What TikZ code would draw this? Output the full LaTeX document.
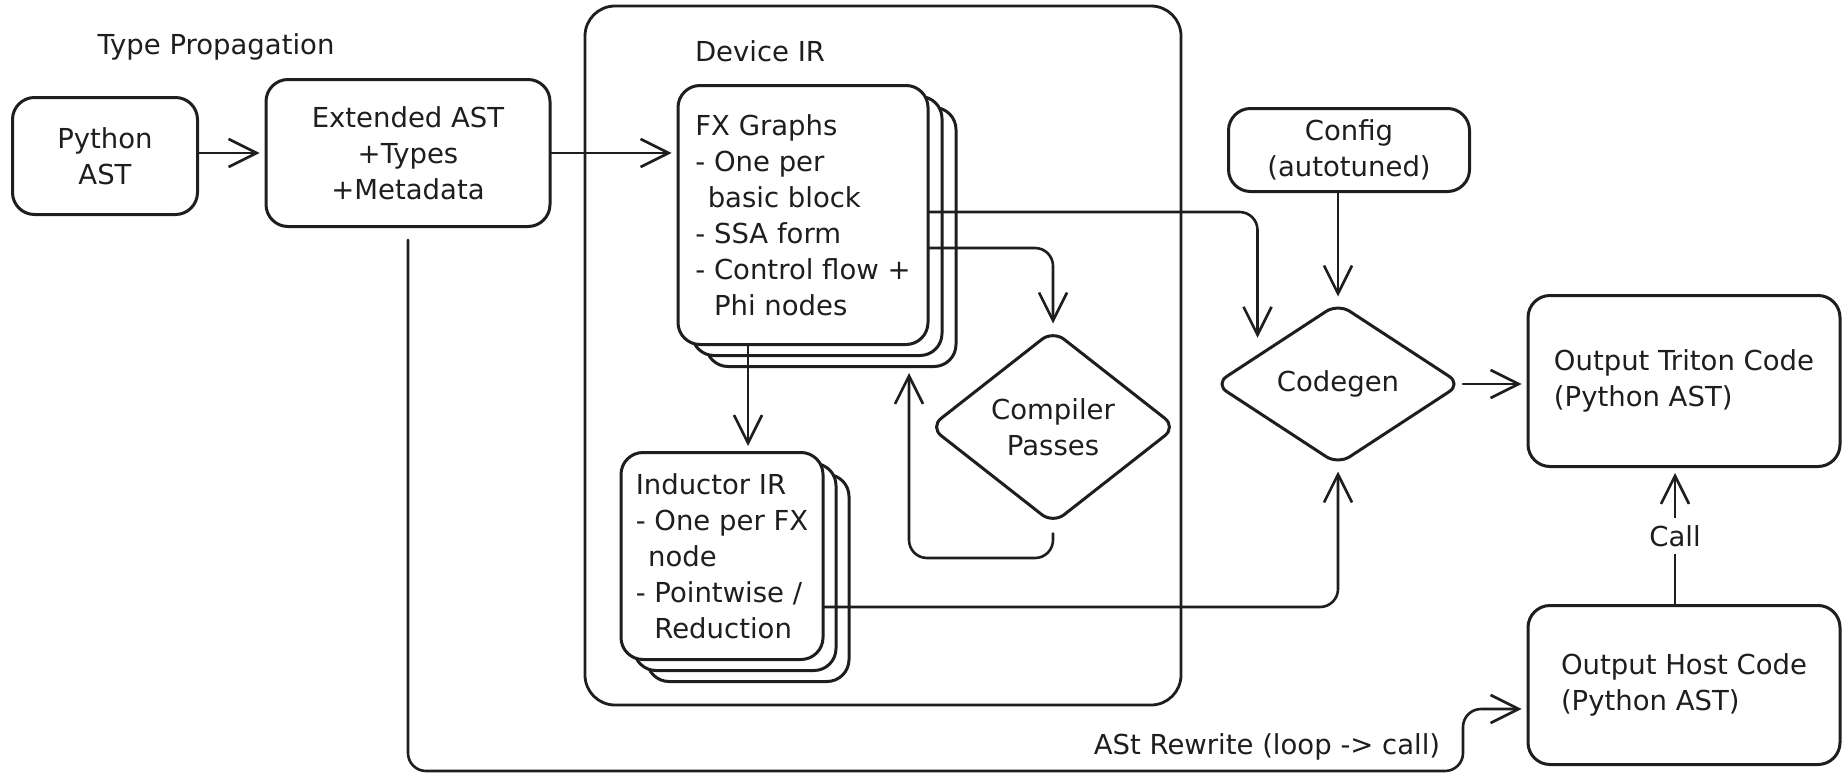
\documentclass[tikz,border=0pt]{standalone}
\usepackage{fontspec}
\setmainfont{DejaVu Sans}
\usetikzlibrary{shapes.geometric,arrows.meta,calc}
\definecolor{ink}{HTML}{1E1E1E}
\tikzset{
  blk/.style={draw=ink, line width=3pt, rounded corners=22pt, fill=white,
    align=center, inner sep=0pt, text=ink},
  listbox/.style={blk, align=left},
  decision/.style={diamond, draw=ink, line width=3pt, rounded corners=14pt,
    fill=white, inner sep=0pt, shape aspect=1.3, align=center, text=ink},
  conn/.style={draw=ink, line width=2.6pt, line cap=round, line join=round},
  arr/.style={conn, shorten >=5pt,
    -{Straight Barb[length=28pt,width=28pt,line width=2.6pt]}},
  lbl/.style={text=ink, inner sep=2pt},
}
\begin{document}
\begin{tikzpicture}[x=1pt, y=-1pt, font=\fontsize{27.5}{36}\selectfont]
\fill[white] (0,0) rectangle (1843,776);
\useasboundingbox (0,0) rectangle (1843,776);

% device IR container
\node[draw=ink, line width=2.8pt, rounded corners=30pt,
      minimum width=596pt, minimum height=699pt] (dev) at (883,355.5) {};
\node[lbl] (devl) at (760,51) {Device IR};

% front end
\node[lbl] (tp) at (216,47) {Type Propagation};
\node[blk, minimum width=185pt, minimum height=117pt] (py) at (105,156) {Python\\AST};
\node[blk, minimum width=284pt, minimum height=147pt] (ext) at (408,153)
  {Extended AST\\+Types\\+Metadata};

% FX graph stack
\node[blk, minimum width=250pt, minimum height=259pt] (fx3) at (831,237) {};
\node[blk, minimum width=250pt, minimum height=259pt] (fx2) at (817,226) {};
\node[listbox, minimum width=250pt, minimum height=259pt] (fx) at (803,215)
  {FX Graphs\\- One per\\\hspace*{.45em}basic block\\- SSA form\\- Control flow +\\\phantom{- }Phi nodes};

% Inductor IR stack
\node[blk, minimum width=202pt, minimum height=207pt] (ind3) at (748,578) {};
\node[blk, minimum width=202pt, minimum height=207pt] (ind2) at (735,567) {};
\node[listbox, minimum width=202pt, minimum height=207pt] (ind) at (722,556)
  {Inductor IR\\- One per FX\\\hspace*{.45em}node\\- Pointwise /\\\phantom{- }Reduction};

% passes and code generation
\node[decision, minimum width=247pt, minimum height=194pt] (cp) at (1053,427) {Compiler\\Passes};
\node[blk, minimum width=241pt, minimum height=83pt] (cfg) at (1349,150) {Config\\(autotuned)};
\node[decision, minimum width=247pt, minimum height=162pt] (cg) at (1338,384) {Codegen};

% outputs
\node[listbox, minimum width=312pt, minimum height=171pt] (tri) at (1684,381)
  {Output Triton Code\\(Python AST)};
\node[listbox, minimum width=312pt, minimum height=159pt] (host) at (1684,685)
  {Output Host Code\\(Python AST)};

% route corners
\coordinate (lp) at (909,558);
\coordinate (rw) at (1463,771);

% connectors
\draw[arr] (py.east |- 0,153) -- (ext.west |- 0,153);
\draw[arr] (ext.east) -- (ext.east -| fx.west);
\draw[arr] ([xshift=-55pt]fx.south) -- ([xshift=-55pt]fx.south |- ind.north);
\draw[arr, rounded corners=18pt] ([yshift=-33pt]fx.east) -| (cp.north);
\draw[arr, rounded corners=18pt] ([yshift=3pt]fx.east) -| ([xshift=-18pt]cg.north west);
\draw[arr, rounded corners=18pt] ([yshift=-8pt]cp.south) |- (lp) -- (lp |- fx3.south);
\draw[arr] (cg.north |- cfg.south) -- (cg.north);
\draw[arr] (cg.east) -- (cg.east -| tri.west);
\draw[arr, rounded corners=18pt] ([yshift=-51pt]ind.east) -| (cg.south);
\draw[arr] ([xshift=-9pt]host.north) -- ([xshift=-9pt]tri.south)
  node[midway, fill=white, text=ink, inner sep=7pt] (call) {Call};
\draw[arr, rounded corners=18pt] ([yshift=-12pt]ext.south) |- (rw) |- ([yshift=-24pt]host.west);
\node[lbl] (rwl) at (1267,747) {ASt Rewrite (loop -> call)};
\end{tikzpicture}
\end{document}
